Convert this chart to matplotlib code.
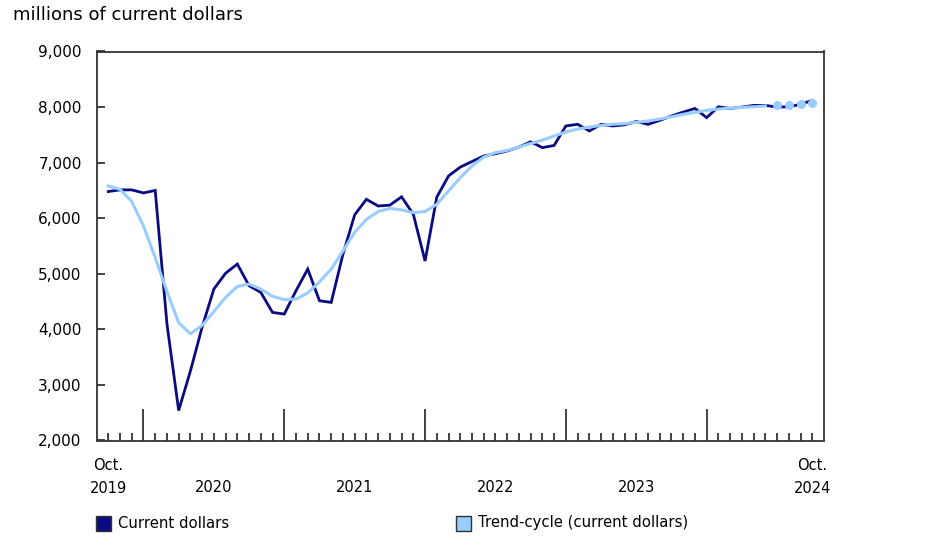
import matplotlib
matplotlib.use("Agg")
import matplotlib.pyplot as plt
from matplotlib.patches import Rectangle

months = list(range(61))  # Oct 2019 .. Oct 2024
current = [6480, 6510, 6510, 6455, 6500, 4100, 2540, 3250, 4040, 4725,
           5010, 5175, 4785, 4665, 4305, 4275, 4695, 5085, 4515, 4485,
           5350, 6060, 6340, 6220, 6235, 6385, 6070, 5230, 6380, 6760,
           6920, 7020, 7120, 7160, 7210, 7280, 7375, 7270, 7310, 7660,
           7690, 7570, 7690, 7660, 7680, 7740, 7690, 7760, 7840, 7910,
           7975, 7810, 8005, 7975, 8000, 8030, 8030, 8000, 8005, 8050,
           8120]
trend = [6580, 6520, 6300, 5860, 5290, 4680, 4120, 3920, 4070, 4320,
         4575, 4770, 4815, 4725, 4595, 4535, 4545, 4655, 4855, 5085,
         5410, 5745, 5980, 6120, 6175, 6150, 6100, 6120, 6250, 6490,
         6730, 6940, 7100, 7180, 7220, 7280, 7345, 7405, 7480, 7550,
         7605, 7640, 7670, 7690, 7700, 7725, 7750, 7785, 7825, 7870,
         7905, 7940, 7965, 7980, 7995, 8005, 8020, 8035, 8045, 8060,
         8070]
n_provisional = 4
year_labels = ["2020", "2021", "2022", "2023"]
year_label_pos = [9, 21, 33, 45]
end_labels = ["Oct.\n2019", "Oct.\n2024"]
yticks = [2000, 3000, 4000, 5000, 6000, 7000, 8000, 9000]
title = "millions of current dollars"
legend_labels = ["Current dollars", "Trend-cycle (current dollars)"]

dark = "#0a0a82"
light = "#99ccff"

W, H = 939, 548
fig = plt.figure(figsize=(W / 100, H / 100), dpi=100)
ax = fig.add_axes([97 / W, 1 - 440.5 / H, (824 - 97) / W, (440.5 - 51.5) / H])

ax.plot(months, current, color=dark, lw=2.0, solid_joinstyle="miter", zorder=3)
k = len(trend) - n_provisional
ax.plot(months[:k], trend[:k], color=light, lw=2.2, zorder=4)
ax.plot(months[k:], trend[k:], color=light, lw=0, marker="o", ms=5.5,
        zorder=4)

ax.set_xlim(-0.96, 61.0)
ax.set_ylim(2000, 9000)

for s in ax.spines.values():
    s.set_color("#333333")
    s.set_linewidth(1.3)

ax.set_yticks(yticks)
ax.set_yticklabels([f"{v:,}" for v in yticks])
ax.tick_params(axis="y", direction="in", length=6, width=1.3, color="#333333",
               labelsize=11, pad=11, labelcolor="#000000")

# x ticks: minor every month, major each January
ax.set_xticks([m for m in months if (m + 9) % 12 == 0])
ax.set_xticks(months, minor=True)
ax.tick_params(axis="x", which="major", direction="in", length=23, width=1.3,
               color="#333333", labelbottom=False)
ax.tick_params(axis="x", which="minor", direction="in", length=6, width=1.3,
               color="#333333")

for lab, p in zip(year_labels, year_label_pos):
    ax.text(p, -0.122, lab, transform=ax.get_xaxis_transform(), ha="center",
            va="center", fontsize=10.5)
for lab, p in zip(end_labels, [months[0], months[-1]]):
    ax.text(p, -0.094, lab, transform=ax.get_xaxis_transform(), ha="center",
            va="center", fontsize=10.5, linespacing=1.65)

fig.text(13 / W, 1 - 15 / H, title, ha="left", va="center", fontsize=13)

# legend
for (x0, col, lab) in [(96, dark, legend_labels[0]), (456, light, legend_labels[1])]:
    fig.patches.append(Rectangle((x0 / W, 1 - 530.5 / H), 15 / W, 15 / H,
                                 transform=fig.transFigure, facecolor=col,
                                 edgecolor="#333333", lw=1.0))
    fig.text((x0 + 22) / W, 1 - 523 / H, lab, ha="left", va="center",
             fontsize=10.7)

fig.savefig("out.png", dpi=100)
